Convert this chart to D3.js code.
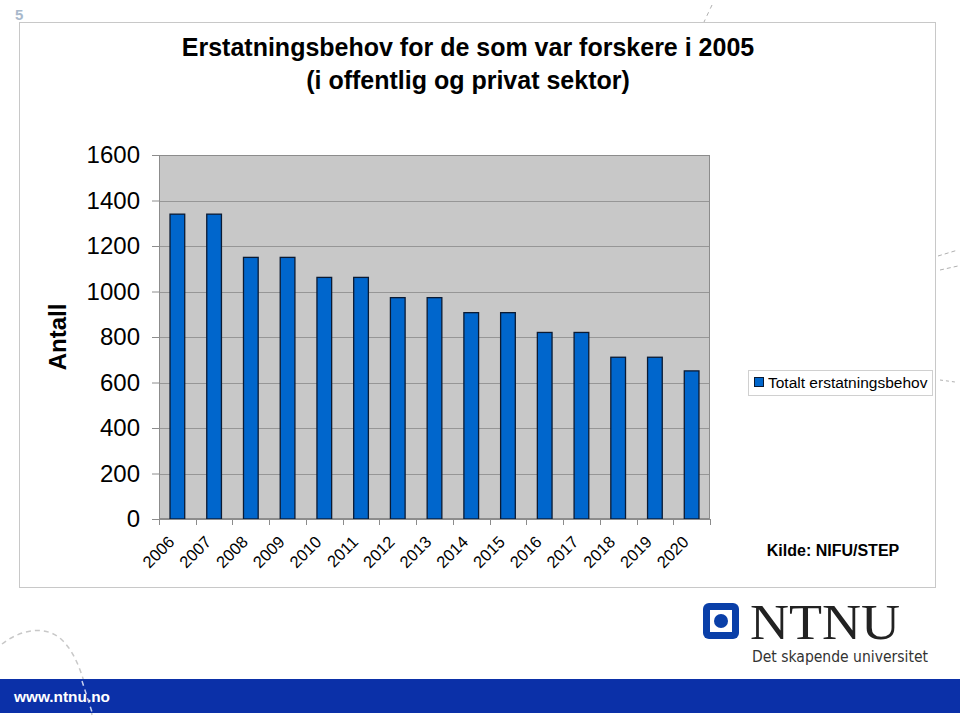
<!DOCTYPE html>
<html><head><meta charset="utf-8">
<script src="https://cdn.jsdelivr.net/npm/d3@7"></script>
<style>body{margin:0;background:#fff;}svg{display:block;font-family:"Liberation Sans",Arial,sans-serif;}</style>
</head><body>
<script>
const years = ["2006","2007","2008","2009","2010","2011","2012","2013","2014","2015","2016","2017","2018","2019","2020"];
const values = [1340,1340,1150,1150,1062,1062,973,973,907,907,820,820,711,711,651];
const yTicks = [0,200,400,600,800,1000,1200,1400,1600];
const seriesName = "Totalt erstatningsbehov";
const titleLines = ["Erstatningsbehov for de som var forskere i 2005","(i offentlig og privat sektor)"];

const W=960,H=717;
const svg=d3.select("body").append("svg").attr("width",W).attr("height",H);

// decorative dashes
svg.append("path").attr("d","M2,644 C20,630 45,624 62,640 C78,655 86,685 92,715")
  .attr("fill","none").attr("stroke","#c8c8c8").attr("stroke-width",1.5).attr("stroke-dasharray","5,4");
svg.append("path").attr("d","M712,5 L704,22").attr("fill","none").attr("stroke","#b0b0b0").attr("stroke-width",1).attr("stroke-dasharray","4,4");
svg.append("path").attr("d","M938,256 L958,250").attr("fill","none").attr("stroke","#b0b0b0").attr("stroke-width",1).attr("stroke-dasharray","4,3");
svg.append("path").attr("d","M940,270 L958,266").attr("fill","none").attr("stroke","#b0b0b0").attr("stroke-width",1).attr("stroke-dasharray","4,3");
svg.append("path").attr("d","M940,380 L955,382").attr("fill","none").attr("stroke","#b0b0b0").attr("stroke-width",1).attr("stroke-dasharray","3,3");

// slide number
svg.append("text").attr("x",15).attr("y",20).attr("font-size",15).attr("font-weight","bold").attr("fill","#a9b9cc").text("5");

// chart frame
svg.append("rect").attr("x",19.5).attr("y",22.5).attr("width",916).attr("height",565)
  .attr("fill","#fff").attr("stroke","#c8c8c8").attr("stroke-width",1);

// title
svg.append("text").attr("x",468).attr("y",56).attr("text-anchor","middle").attr("font-size",25).attr("font-weight","bold").text(titleLines[0]);
svg.append("text").attr("x",468).attr("y",89).attr("text-anchor","middle").attr("font-size",25).attr("font-weight","bold").text(titleLines[1]);

const pl=159,pr=710,pt=155,pb=519;
const x=d3.scaleBand().domain(years).range([pl,pr]).paddingInner(0.6).paddingOuter(0.3);
const xb=d3.scaleBand().domain(years).range([pl,pr]);
const y=d3.scaleLinear().domain([0,1600]).range([pb,pt]);

svg.append("rect").attr("x",pl).attr("y",pt).attr("width",pr-pl).attr("height",pb-pt).attr("fill","#c8c8c8");
// gridlines
svg.append("g").selectAll("line").data(yTicks.filter(d=>d>0)).join("line")
  .attr("x1",pl).attr("x2",pr).attr("y1",d=>Math.round(y(d))+0.5).attr("y2",d=>Math.round(y(d))+0.5)
  .attr("stroke","#969696").attr("stroke-width",1);
// plot border
svg.append("rect").attr("x",pl+0.5).attr("y",pt+0.5).attr("width",pr-pl-1).attr("height",pb-pt-1)
  .attr("fill","none").attr("stroke","#8c8c8c").attr("stroke-width",1);

// bars
svg.append("g").selectAll("rect").data(values).join("rect")
  .attr("x",(d,i)=>x(years[i])).attr("width",x.bandwidth())
  .attr("y",d=>y(d)).attr("height",d=>pb-y(d))
  .attr("fill","#0066cc").attr("stroke","#0a1a33").attr("stroke-width",1.3);

// y axis
const ya=svg.append("g").attr("transform",`translate(${pl},0)`)
  .call(d3.axisLeft(y).tickValues(yTicks).tickSize(7).tickPadding(12).tickFormat(d3.format("d")));
ya.select(".domain").attr("stroke","#8c8c8c");
ya.selectAll(".tick line").attr("stroke","#8c8c8c");
ya.selectAll("text").attr("font-size",24).attr("font-family","Liberation Sans, Arial, sans-serif").attr("fill","#000");

// x axis
const xa=svg.append("g").attr("transform",`translate(0,${pb})`);
xa.append("line").attr("x1",pl).attr("x2",pr).attr("y1",0.5).attr("y2",0.5).attr("stroke","#8c8c8c");
xa.selectAll("line.t").data(years.concat(["end"])).join("line").attr("class","t")
  .attr("x1",(d,i)=>Math.round(pl+i*xb.bandwidth())+0.5).attr("x2",(d,i)=>Math.round(pl+i*xb.bandwidth())+0.5)
  .attr("y1",0).attr("y2",6).attr("stroke","#8c8c8c");
xa.selectAll("text").data(years).join("text")
  .attr("transform",d=>`translate(${xb(d)+xb.bandwidth()/2-6},${20}) rotate(-45)`)
  .attr("text-anchor","end").attr("font-size",16.5).attr("dy","0.35em").text(d=>d);

// y axis title
svg.append("text").attr("transform","translate(66,337) rotate(-90)").attr("text-anchor","middle")
  .attr("font-size",24).attr("font-weight","bold").text("Antall");

// legend
const lg=svg.append("g");
lg.append("rect").attr("x",748.5).attr("y",370.5).attr("width",184).attr("height",25).attr("fill","#fff").attr("stroke","#d0d0d0");
lg.append("rect").attr("x",754.5).attr("y",377.5).attr("width",9).attr("height",9).attr("fill","#0066cc").attr("stroke","#0a1a33");
lg.append("text").attr("x",768).attr("y",383).attr("dy","0.35em").attr("font-size",15.5).text(seriesName);

// source
svg.append("text").attr("x",833).attr("y",550).attr("dy","0.35em").attr("text-anchor","middle")
  .attr("font-size",16).attr("font-weight","bold").text("Kilde: NIFU/STEP");

// NTNU logo
const logo=svg.append("g");
logo.append("rect").attr("x",703).attr("y",603).attr("width",36).attr("height",36).attr("rx",6).attr("fill","#0a3fa8");
logo.append("rect").attr("x",710).attr("y",610).attr("width",22).attr("height",22).attr("fill","#fff");
logo.append("circle").attr("cx",721).attr("cy",621).attr("r",7).attr("fill","#0a3fa8");
logo.append("text").attr("x",750).attr("y",639).attr("font-family","Liberation Serif, serif").attr("font-size",50)
  .attr("textLength",150).attr("lengthAdjust","spacingAndGlyphs").attr("fill","#222").text("NTNU");
logo.append("text").attr("x",752).attr("y",662).attr("font-family","DejaVu Sans Condensed, DejaVu Sans, sans-serif").attr("font-size",15)
  .attr("textLength",176).attr("lengthAdjust","spacingAndGlyphs").attr("fill","#333").text("Det skapende universitet");

// footer bar
svg.append("rect").attr("x",0).attr("y",679).attr("width",W).attr("height",34).attr("fill","#0b30a8");
svg.append("text").attr("x",14).attr("y",697).attr("dy","0.35em").attr("font-size",14).attr("font-weight","bold")
  .attr("fill","#fff").attr("textLength",96).attr("lengthAdjust","spacingAndGlyphs").text("www.ntnu.no");
svg.append("path").attr("d","M82,681 L92,712").attr("stroke","#c8d0ee").attr("stroke-width",1.5).attr("stroke-dasharray","5,4");
</script>
</body></html>
